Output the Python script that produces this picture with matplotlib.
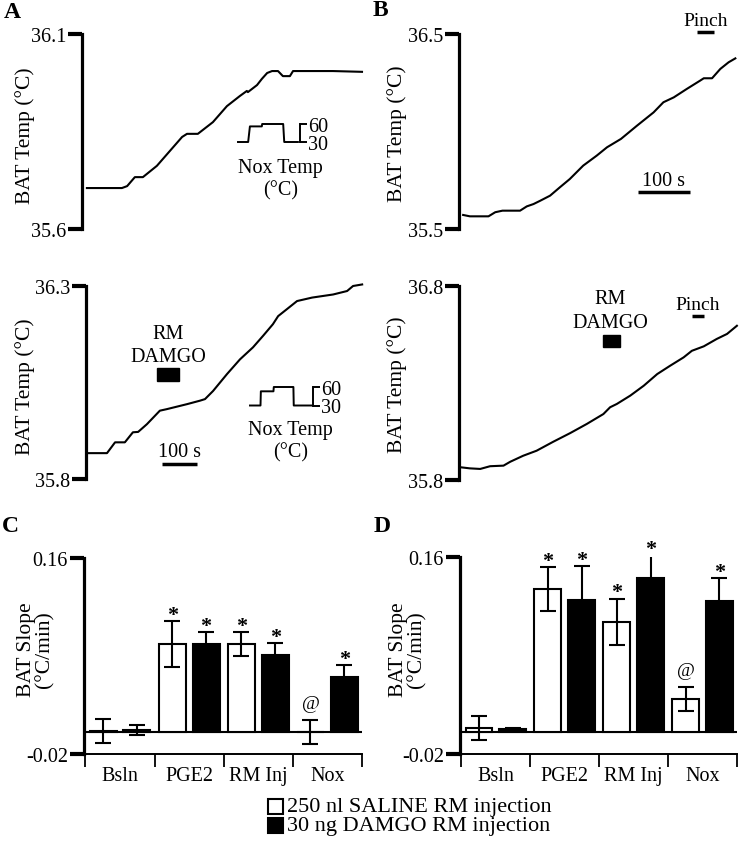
import numpy as np
import matplotlib
matplotlib.use("Agg")
import matplotlib.pyplot as plt
from matplotlib.patches import Rectangle

plt.rcParams['font.family'] = ['Liberation Serif', 'DejaVu Serif']

# ---- BAT temperature traces (time in s, temp in degC) ----
ta1 = [14, 114, 129, 151, 174, 214, 286, 300, 331, 374, 414, 451, 471, 474,
       500, 514, 529, 543, 560, 574, 594, 603, 717, 800]
temp_a1 = [35.705, 35.705, 35.710, 35.733, 35.733, 35.762, 35.836, 35.844, 35.844,
           35.874, 35.915, 35.941, 35.954, 35.951, 35.969, 35.985, 36.000, 36.005,
           36.005, 35.992, 35.992, 36.005, 36.005, 36.003]

ta2 = [3, 60, 83, 111, 134, 149, 174, 211, 231, 289, 326, 340, 363, 403, 440,
       477, 506, 534, 549, 574, 603, 646, 706, 746, 763, 789]
temp_a2 = [35.867, 35.867, 35.895, 35.895, 35.921, 35.922, 35.942, 35.977, 35.981,
           35.994, 36.003, 36.007, 36.028, 36.072, 36.110, 36.141, 36.171, 36.201,
           36.222, 36.240, 36.261, 36.270, 36.278, 36.287, 36.300, 36.304]

tb1 = [8, 21, 57, 70, 84, 118, 131, 144, 157, 176, 195, 214, 240, 266, 286, 313,
       344, 376, 395, 415, 440, 466, 473, 489, 505, 521, 534]
temp_b1 = [35.572, 35.565, 35.565, 35.586, 35.594, 35.594, 35.616, 35.628, 35.645,
           35.671, 35.714, 35.756, 35.825, 35.876, 35.919, 35.962, 36.030, 36.098,
           36.150, 36.175, 36.218, 36.261, 36.273, 36.273, 36.321, 36.355, 36.375]

tb2 = [5, 21, 41, 60, 86, 99, 124, 150, 182, 215, 247, 279, 292, 305, 331, 357,
       383, 408, 434, 450, 473, 498, 518, 537]
temp_b2 = [35.865, 35.860, 35.857, 35.871, 35.874, 35.894, 35.925, 35.951, 35.997,
           36.042, 36.089, 36.140, 36.175, 36.192, 36.235, 36.286, 36.346, 36.389,
           36.432, 36.466, 36.489, 36.527, 36.553, 36.595]

# noxious (hot water) stimulus temperature
nox_t1 = [0, 29, 34, 68, 69, 129, 132, 171]
nox_v1 = [30, 30, 56, 56, 60, 60, 30, 30]
nox_t2 = [0, 30, 31, 67, 68, 124, 125, 176]
nox_v2 = [30, 30, 53, 53, 60, 60, 30, 30]

# ---- BAT slope bars ----
groups = ['Bsln', 'PGE2', 'RM Inj', 'Nox']
c_saline = [0.001, 0.081, 0.081, 0.000]
c_saline_err = [0.011, 0.021, 0.011, 0.011]
c_damgo = [0.002, 0.081, 0.071, 0.051]
c_damgo_err = [0.005, 0.011, 0.011, 0.011]
d_saline = [0.004, 0.131, 0.101, 0.030]
d_saline_err = [0.011, 0.020, 0.021, 0.011]
d_damgo = [0.003, 0.121, 0.141, 0.120]
d_damgo_err = [0.001, 0.031, 0.021, 0.021]
star_saline = [False, True, True, False]
star_damgo = [False, True, True, True]
at_saline = [False, False, False, True]

W, H = 740, 853
fig = plt.figure(figsize=(W / 100, H / 100), dpi=100)


def px_axes(left, top, width, height):
    return fig.add_axes([left / W, 1 - (top + height) / H, width / W, height / H])


def ftext(x, y, s, **kw):
    kw.setdefault('ha', 'center')
    kw.setdefault('va', 'center')
    return fig.text(x / W, 1 - y / H, s, **kw)


def trace_axes(ax, t, temp, xmax, lo, hi):
    ax.plot(t, temp, color='black', lw=1.5, clip_on=False)
    ax.set_xlim(0, xmax)
    ax.set_ylim(lo, hi)
    ax.set_yticks([lo, hi])
    ax.set_yticklabels([f'{lo:.1f}', f'{hi:.1f}'])
    ax.set_xticks([])
    for s in ['top', 'right', 'bottom']:
        ax.spines[s].set_visible(False)
    ax.spines['left'].set_linewidth(2.3)
    ax.tick_params(axis='y', length=10, width=3, direction='out', labelsize=14.5, pad=1.5)
    ax.patch.set_visible(False)


def nox_inset(ax, t, v, xmax):
    ax.plot(t, v, color='black', lw=1.4, clip_on=False)
    ax.set_xlim(0, xmax)
    ax.set_ylim(30, 60)
    ax.set_xticks([])
    ax.set_yticks([30, 60])
    ax.yaxis.tick_right()
    for s in ['top', 'left', 'bottom']:
        ax.spines[s].set_visible(False)
    ax.spines['right'].set_linewidth(1.4)
    ax.tick_params(axis='y', length=5, width=1.4, labelsize=14.5, pad=1)
    ax.patch.set_visible(False)


# Panel A
ax_a1 = px_axes(82, 35, 280, 195)
trace_axes(ax_a1, ta1, temp_a1, 800, 35.6, 36.1)
nox_inset(px_axes(238, 125, 62, 18), nox_t1, nox_v1, 177)
ftext(280, 168, 'Nox Temp', fontsize=14.5)
ftext(281, 191, '(°C)', fontsize=14.5)

ax_a2 = px_axes(86, 287, 276.5, 193)
trace_axes(ax_a2, ta2, temp_a2, 790, 35.8, 36.3)
nox_inset(px_axes(250, 388, 63, 18.5), nox_t2, nox_v2, 180)
ftext(290, 430, 'Nox Temp', fontsize=14.5)
ftext(291, 453, '(°C)', fontsize=14.5)
ax_a2.plot([217, 317], [35.839, 35.839], color='black', lw=2.5, solid_capstyle='butt')
ax_a2.text(267, 35.846, '100 s', ha='center', va='bottom', fontsize=14.5)
ax_a2.add_patch(Rectangle((203, 36.053), 63, 0.034, color='black'))
ax_a2.text(234, 36.178, 'RM', ha='center', va='center', fontsize=14.5)
ax_a2.text(234, 36.118, 'DAMGO', ha='center', va='center', fontsize=14.5)

# Panel B
ax_b1 = px_axes(459, 35, 281, 195)
trace_axes(ax_b1, tb1, temp_b1, 543, 35.5, 36.5)
ax_b1.plot([346, 446], [35.690, 35.690], color='black', lw=2.5, solid_capstyle='butt')
ax_b1.text(396, 35.70, '100 s', ha='center', va='bottom', fontsize=14.5)
ax_b1.plot([460, 492], [36.51, 36.51], color='black', lw=2.5, solid_capstyle='butt', clip_on=False)
ax_b1.text(476, 36.525, 'Pinch', ha='center', va='bottom', fontsize=14)

ax_b2 = px_axes(459, 287, 281, 194)
trace_axes(ax_b2, tb2, temp_b2, 543, 35.8, 36.8)
ax_b2.add_patch(Rectangle((279, 36.485), 32, 0.062, color='black'))
ax_b2.text(292, 36.733, 'RM', ha='center', va='center', fontsize=14.5)
ax_b2.text(292, 36.614, 'DAMGO', ha='center', va='center', fontsize=14.5)
ax_b2.plot([450, 473], [36.644, 36.644], color='black', lw=2.5, solid_capstyle='butt')
ax_b2.text(461, 36.66, 'Pinch', ha='center', va='bottom', fontsize=14)

for x, y in [(25, 136), (25, 387), (397, 134), (397, 385)]:
    ftext(x, y, 'BAT Temp (°C)', rotation=90, fontsize=15.5)


# Panels C and D
def bar_panel(ax, sal, sal_err, dam, dam_err):
    x = np.arange(len(groups))
    off, w = 0.245, 0.39
    ax.axhline(0, color='black', lw=1.5, zorder=1)
    ax.bar(x - off, sal, w, color='white', edgecolor='black', lw=1.5, zorder=2)
    ax.bar(x + off, dam, w, color='black', edgecolor='black', lw=1.5, zorder=2)
    ax.errorbar(x - off, sal, yerr=sal_err, fmt='none', ecolor='black',
                elinewidth=1.5, capsize=6, capthick=1.5, zorder=3)
    ax.errorbar(x + off, dam, yerr=dam_err, fmt='none', ecolor='black',
                elinewidth=1.5, capsize=6, capthick=1.5, zorder=3)
    for i in range(len(groups)):
        if star_saline[i]:
            ax.text(x[i] - off, sal[i] + sal_err[i] + 0.001, '*', ha='center',
                    va='baseline', fontsize=16, fontweight='bold')
        if star_damgo[i]:
            ax.text(x[i] + off, dam[i] + dam_err[i] + 0.001, '*', ha='center',
                    va='baseline', fontsize=16, fontweight='bold')
        if at_saline[i]:
            ax.text(x[i] - off, sal[i] + sal_err[i] + 0.015, '@', ha='center',
                    va='center', fontsize=14)
    ax.set_xlim(-0.52, 3.5)
    ax.set_ylim(-0.02, 0.16)
    ax.set_yticks([-0.02, 0.16])
    ax.set_yticklabels(['-0.02', '0.16'])
    ax.set_xticks(x)
    ax.set_xticklabels(groups)
    ax.set_xticks([-0.5, 0.5, 1.5, 2.5, 3.5], minor=True)
    ax.tick_params(axis='x', which='major', length=0, labelsize=14.5, pad=9)
    ax.tick_params(axis='x', which='minor', length=9, width=1.3, direction='out')
    ax.tick_params(axis='y', length=10, width=3, labelsize=14.5, pad=1.5)
    ax.spines['top'].set_visible(False)
    ax.spines['right'].set_visible(False)
    ax.spines['left'].set_linewidth(2.3)
    ax.spines['bottom'].set_linewidth(1.4)


ax_c = px_axes(84, 559, 278, 196)
bar_panel(ax_c, c_saline, c_saline_err, c_damgo, c_damgo_err)
ax_d = px_axes(460, 558, 277, 197)
bar_panel(ax_d, d_saline, d_saline_err, d_damgo, d_damgo_err)

for x in [36, 408]:
    ftext(x, 650, 'BAT Slope\n(°C/min)', rotation=90, fontsize=15.5, linespacing=0.95)

# panel letters
for s, x, y in [('A', 12, 13), ('B', 380, 11), ('C', 10, 527), ('D', 382, 526)]:
    ftext(x, y, s, fontsize=17, fontweight='bold')

# legend
fig.patches.append(Rectangle((268 / W, 1 - 815 / H), 15 / W, 15 / H, transform=fig.transFigure,
                             facecolor='white', edgecolor='black', lw=1.5))
fig.patches.append(Rectangle((268 / W, 1 - 834 / H), 15 / W, 15 / H, transform=fig.transFigure,
                             facecolor='black', edgecolor='black', lw=1.5))
ftext(287, 808, '250 nl SALINE RM injection', ha='left', fontsize=16)
ftext(287, 827, '30 ng DAMGO RM injection', ha='left', fontsize=16)

fig.savefig('out.png', dpi=100)
